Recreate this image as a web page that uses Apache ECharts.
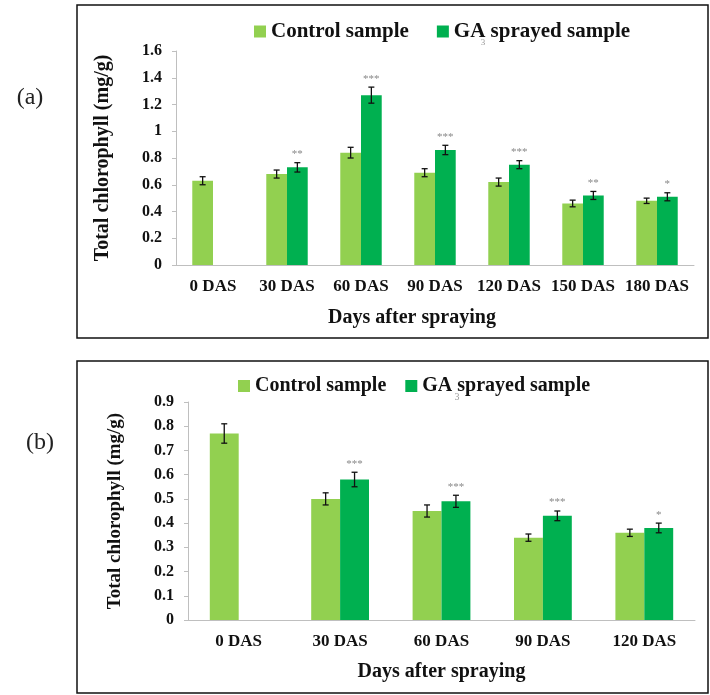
<!DOCTYPE html>
<html>
<head>
<meta charset="utf-8">
<script src="https://cdn.jsdelivr.net/npm/echarts@6/dist/echarts.min.js"></script>
<style>
  body { margin: 0; background: #fff; }
  #chart { width: 710px; height: 695px; }
</style>
</head>
<body>
<div id="chart"></div>
<script>
// panel (a)
var daysA = ['0 DAS', '30 DAS', '60 DAS', '90 DAS', '120 DAS', '150 DAS', '180 DAS'];
var controlA = [0.63, 0.68, 0.84, 0.69, 0.62, 0.46, 0.48];
var controlErrA = [0.03, 0.03, 0.04, 0.03, 0.03, 0.025, 0.02];
var gaA = ['-', 0.73, 1.27, 0.86, 0.75, 0.52, 0.51];
var gaErrA = ['-', 0.035, 0.06, 0.035, 0.03, 0.03, 0.03];
var sigA = ['', '**', '***', '***', '***', '**', '*'];

// panel (b)
var daysB = ['0 DAS', '30 DAS', '60 DAS', '90 DAS', '120 DAS'];
var controlB = [0.77, 0.50, 0.45, 0.34, 0.36];
var controlErrB = [0.04, 0.025, 0.025, 0.015, 0.015];
var gaB = ['-', 0.58, 0.49, 0.43, 0.38];
var gaErrB = ['-', 0.03, 0.025, 0.02, 0.02];
var sigB = ['', '***', '***', '***', '*'];

var lightGreen = '#92d050';
var darkGreen = '#00b050';
var serif = 'Liberation Serif';

function errData(means, errs) {
    var out = [];
    means.forEach(function (m, i) {
        if (m !== '-') out.push([i, m, errs[i]]);
    });
    return out;
}

// error bars (and significance stars) drawn over the grouped bars
function errSeries(idx, means, errs, side, gap, sig) {
    return {
        type: 'custom',
        xAxisIndex: idx,
        yAxisIndex: idx,
        z: 5,
        silent: true,
        encode: { x: 0, y: 1 },
        data: errData(means, errs),
        renderItem: function (params, api) {
            var i = api.value(0), m = api.value(1), e = api.value(2);
            var catW = api.size([1, 0])[0];
            var bw = catW * (1 - gap) / 2;
            var cx = api.coord([i, m])[0] + side * bw / 2;
            var top = api.coord([i, m + e])[1];
            var bot = api.coord([i, m - e])[1];
            var st = { stroke: '#111', lineWidth: 1.3 };
            var kids = [
                { type: 'line', shape: { x1: cx, y1: top, x2: cx, y2: bot }, style: st },
                { type: 'line', shape: { x1: cx - 3, y1: top, x2: cx + 3, y2: top }, style: st },
                { type: 'line', shape: { x1: cx - 3, y1: bot, x2: cx + 3, y2: bot }, style: st }
            ];
            if (sig && sig[i]) {
                kids.push({
                    type: 'text',
                    style: {
                        x: cx, y: top - 3, text: sig[i],
                        textAlign: 'center', textVerticalAlign: 'bottom',
                        font: '11px ' + serif, fill: '#888'
                    }
                });
            }
            return { type: 'group', children: kids };
        }
    };
}

function xAxisFor(idx, cats, gapName, pad) {
    return {
        type: 'category',
        gridIndex: idx,
        data: cats,
        name: 'Days after spraying',
        nameLocation: 'middle',
        nameGap: gapName,
        nameTextStyle: { fontFamily: serif, fontWeight: 'bold', fontSize: 20, color: '#111', padding: pad },
        axisLine: { lineStyle: { color: '#bfbfbf' } },
        axisTick: { show: false },
        axisLabel: { margin: 13, fontFamily: serif, fontWeight: 'bold', fontSize: 17, color: '#111', interval: 0 }
    };
}

function yAxisFor(idx, max, step, fs) {
    return {
        type: 'value',
        gridIndex: idx,
        min: 0,
        max: max,
        interval: step,
        name: 'Total chlorophyll (mg/g)',
        nameLocation: 'middle',
        nameRotate: 90,
        nameGap: 63,
        nameTextStyle: { fontFamily: serif, fontWeight: 'bold', fontSize: fs, color: '#111' },
        splitLine: { show: false },
        axisLine: { show: true, lineStyle: { color: '#bfbfbf' } },
        axisTick: { show: true, length: 4, lineStyle: { color: '#bfbfbf' } },
        axisLabel: { margin: 14, fontFamily: serif, fontWeight: 'bold', fontSize: 16, color: '#111' }
    };
}

var chart = echarts.init(document.getElementById('chart'));

var option = {
    animation: false,
    backgroundColor: '#fff',
    color: [lightGreen, darkGreen],
    graphic: [
        { type: 'rect', shape: { x: 77, y: 5, width: 631, height: 333 }, style: { fill: 'none', stroke: '#111', lineWidth: 1.5 } },
        { type: 'rect', shape: { x: 77, y: 361, width: 631, height: 332 }, style: { fill: 'none', stroke: '#111', lineWidth: 1.5 } },
        { type: 'text', style: { x: 30, y: 98, text: '(a)', font: '24px ' + serif, fill: '#222', textAlign: 'center', textVerticalAlign: 'middle' } },
        { type: 'text', style: { x: 40, y: 443, text: '(b)', font: '24px ' + serif, fill: '#222', textAlign: 'center', textVerticalAlign: 'middle' } },
        { type: 'text', style: { x: 483, y: 43, text: '3', font: '9px ' + serif, fill: '#999', textAlign: 'center', textVerticalAlign: 'middle' } },
        { type: 'text', style: { x: 457, y: 397, text: '3', font: '10px ' + serif, fill: '#999', textAlign: 'center', textVerticalAlign: 'middle' } }
    ],
    legend: [
        {
            left: 249, top: 16,
            itemWidth: 12, itemHeight: 12, itemGap: 28,
            icon: 'rect',
            data: ['Control sample', 'GA sprayed sample'],
            textStyle: { fontFamily: serif, fontWeight: 'bold', fontSize: 21, color: '#111' }
        },
        {
            left: 233, top: 371,
            itemWidth: 12, itemHeight: 12, itemGap: 19,
            icon: 'rect',
            data: ['Control sample', 'GA sprayed sample'],
            textStyle: { fontFamily: serif, fontWeight: 'bold', fontSize: 20, color: '#111' }
        }
    ],
    grid: [
        { left: 176, right: 16, top: 51, bottom: 430 },
        { left: 188, right: 15, top: 402, bottom: 75 }
    ],
    xAxis: [
        xAxisFor(0, daysA, 43, [0, 46, 0, 0]),
        xAxisFor(1, daysB, 42, [0, 0, 0, 0])
    ],
    yAxis: [
        yAxisFor(0, 1.6, 0.2, 20),
        yAxisFor(1, 0.9, 0.1, 19)
    ],
    series: [
        { name: 'Control sample', type: 'bar', xAxisIndex: 0, yAxisIndex: 0, data: controlA, barGap: 0, barCategoryGap: '44%' },
        { name: 'GA sprayed sample', type: 'bar', xAxisIndex: 0, yAxisIndex: 0, data: gaA, barGap: 0, barCategoryGap: '44%' },
        errSeries(0, controlA, controlErrA, -1, 0.44, null),
        errSeries(0, gaA, gaErrA, 1, 0.44, sigA),
        { name: 'Control sample', type: 'bar', xAxisIndex: 1, yAxisIndex: 1, data: controlB, barGap: 0, barCategoryGap: '43%' },
        { name: 'GA sprayed sample', type: 'bar', xAxisIndex: 1, yAxisIndex: 1, data: gaB, barGap: 0, barCategoryGap: '43%' },
        errSeries(1, controlB, controlErrB, -1, 0.43, null),
        errSeries(1, gaB, gaErrB, 1, 0.43, sigB)
    ]
};

chart.setOption(option, true);
</script>
</body>
</html>
